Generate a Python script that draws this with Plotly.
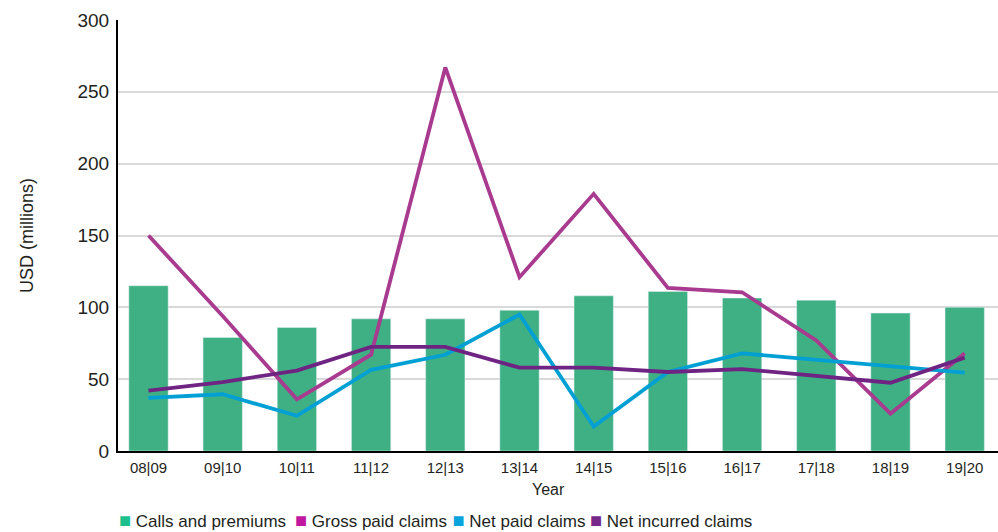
import plotly.graph_objects as go

years = ["08|09", "09|10", "10|11", "11|12", "12|13", "13|14",
         "14|15", "15|16", "16|17", "17|18", "18|19", "19|20"]
calls_premiums = [115, 79, 86, 92, 92, 98, 108, 111, 106.5, 105, 96, 100]
gross_paid = [150, 94, 36, 67, 267, 121, 179, 113.5, 110.5, 77, 26, 68]
net_paid = [37, 39.5, 24.5, 56.5, 67, 95, 17, 55, 68, 63.5, 59.5, 54.5]
net_incurred = [42, 48, 56, 72.5, 72.5, 58, 58, 55, 57, 52, 47.5, 65]

names = ["Calls and premiums", "Gross paid claims", "Net paid claims", "Net incurred claims"]
legend_colors = ["#1dbf8d", "#c0179e", "#0ba3dc", "#77288b"]

FONT = "Liberation Sans, Arial, sans-serif"
TXT = "#231f20"

fig = go.Figure()
fig.add_trace(go.Bar(x=years, y=calls_premiums, name=names[0], marker_color="#3eb083",
                     width=0.53, showlegend=False))
fig.add_trace(go.Scatter(x=years, y=gross_paid, name=names[1], mode="lines",
                         line=dict(color="#a83a8f", width=3.8), showlegend=False))
fig.add_trace(go.Scatter(x=years, y=net_paid, name=names[2], mode="lines",
                         line=dict(color="#00a0d5", width=3.8), showlegend=False))
fig.add_trace(go.Scatter(x=years, y=net_incurred, name=names[3], mode="lines",
                         line=dict(color="#6f2483", width=3.8), showlegend=False))

# legend-only entries; swatch drawn as a coloured square glyph in the label
legend_ids = ["legend", "legend2", "legend3", "legend4"]
for nm, col, lg in zip(names, legend_colors, legend_ids):
    label = f'<span style="color:{col};font-size:20px">■</span> {nm}'
    fig.add_trace(go.Scatter(x=[None], y=[None], mode="markers", name=label,
                             marker=dict(symbol="square", size=1, color="rgba(0,0,0,0)"),
                             showlegend=True, legend=lg))

W, H = 998, 532
L, R, T, B = 118, 0, 20, 81
pw = W - L - R
ph = H - T - B

def px_x(p):
    return (p - L) / pw

def px_y(p):
    return (H - B - p) / ph

square_lefts = [120, 296, 453.5, 591]
leg_cfg = {}
for lg, sl in zip(legend_ids, square_lefts):
    leg_cfg[lg] = dict(x=px_x(sl - 41), xanchor="left", y=px_y(521), yanchor="middle",
                       orientation="h", font=dict(family=FONT, size=17, color=TXT),
                       itemwidth=30, bgcolor="rgba(0,0,0,0)", borderwidth=0,
                       tracegroupgap=0)

fig.update_layout(
    width=W, height=H,
    margin=dict(l=L, r=R, t=T, b=B, pad=0, autoexpand=False),
    paper_bgcolor="white", plot_bgcolor="white",
    font=dict(family=FONT, color=TXT),
    **leg_cfg,
    xaxis=dict(type="category", range=[-0.411, 11.449], showgrid=False,
               showline=True, linecolor="#000000", linewidth=2,
               ticks="", tickfont=dict(size=15, color=TXT), ticklabelstandoff=2,
               zeroline=False),
    yaxis=dict(range=[0, 300], dtick=50, showgrid=True, gridcolor="#d9d9d9", gridwidth=2,
               showline=True, linecolor="#000000", linewidth=2, zeroline=False,
               ticks="", tickfont=dict(size=19, color=TXT), ticklabelstandoff=3,
               title=dict(text="USD (millions)", font=dict(size=18, color=TXT), standoff=39)),
    annotations=[dict(text="Year", x=px_x(548), y=px_y(490), xref="paper", yref="paper",
                      xanchor="center", yanchor="middle", showarrow=False,
                      font=dict(family=FONT, size=16, color=TXT))],
)

fig.write_html("out.html")
